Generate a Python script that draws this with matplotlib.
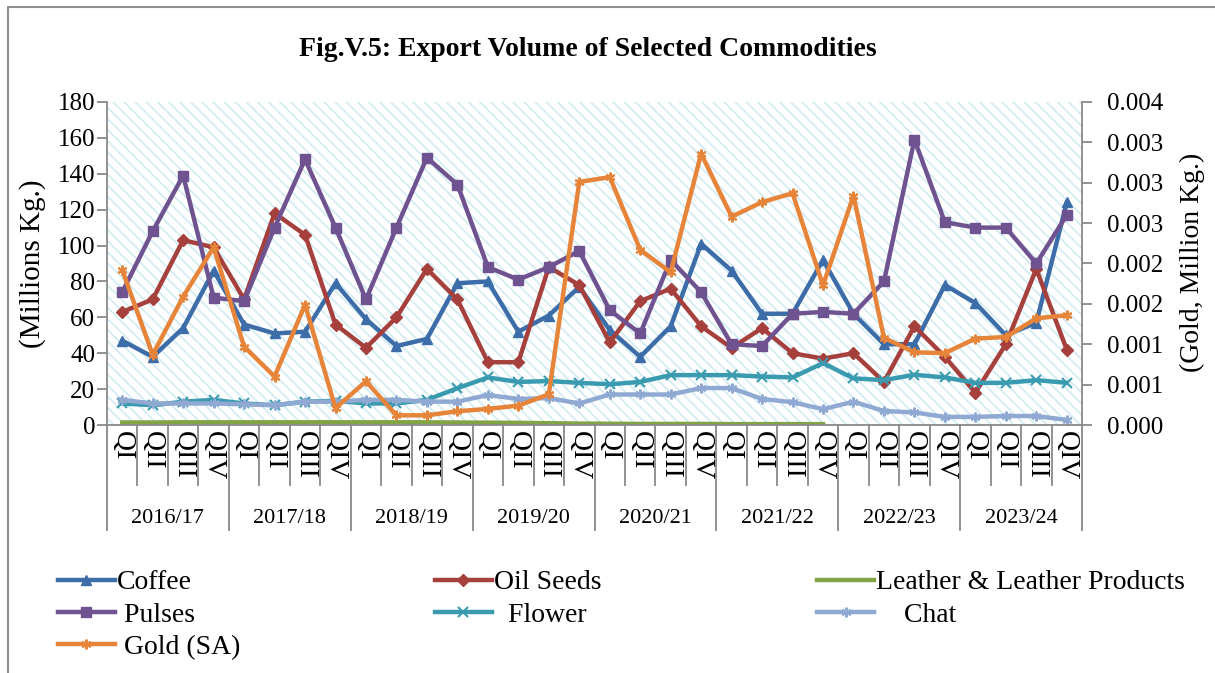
import numpy as np
import matplotlib
matplotlib.use('Agg')
import matplotlib.pyplot as plt
from matplotlib.patches import Rectangle

plt.rcParams['font.family'] = 'Liberation Serif'
plt.rcParams['font.size'] = 16
plt.rcParams['hatch.linewidth'] = 1.3

years = ['2016/17', '2017/18', '2018/19', '2019/20', '2020/21', '2021/22', '2022/23', '2023/24']
quarters = ['QI', 'QII', 'QIII', 'QIV'] * len(years)

coffee = [47, 38, 54, 86, 56, 51, 52, 79, 59, 44, 48, 79, 80, 52, 61, 77,
          53, 38, 55, 101, 86, 62, 62, 92, 62, 45, 45, 78, 68, 50, 57, 124]
oil_seeds = [63, 70, 103, 99, 70, 118, 106, 56, 43, 60, 87, 70, 35, 35, 88, 78,
             46, 69, 76, 55, 43, 54, 40, 37, 40, 24, 55, 38, 18, 45, 87, 42]
leather = [1.4, 1.4, 1.5, 1.5, 1.5, 1.5, 1.5, 1.5, 1.5, 1.5, 1.5, 1.4, 1.3, 1.2, 1.0, 0.8,
           0.7, 0.6, 0.6, 0.6, 0.5, 0.5, 0.5, 0.5] + [np.nan] * 8
pulses = [74, 108, 139, 71, 69, 110, 148, 110, 70, 110, 149, 134, 88, 81, 88, 97,
          64, 51, 92, 74, 45, 44, 62, 63, 62, 80, 159, 113, 110, 110, 90, 117]
flower = [12, 11, 13, 14, 12, 11, 13, 13.5, 12, 12, 14, 20.5, 26.5, 24, 24.5, 23.5,
          22.7, 24, 27.8, 27.8, 27.8, 27, 26.5, 34.5, 26, 25, 28, 26.5, 23.5, 23.5, 25, 23.5]
chat = [14, 12, 12, 12, 11.5, 11, 13, 13, 14, 14, 13, 13, 16.7, 14.5, 15, 12,
        17, 17, 17, 20.6, 20.6, 14.5, 12.7, 8.8, 13, 7.8, 7, 4.5, 4.5, 5, 5, 2.8]
gold = [0.00192, 0.00087, 0.00159, 0.00220, 0.00097, 0.00060, 0.00149, 0.00021,
        0.00054, 0.00012, 0.00012, 0.00017, 0.00020, 0.00024, 0.00038, 0.00301,
        0.00307, 0.00217, 0.00189, 0.00336, 0.00258, 0.00276, 0.00287, 0.00173,
        0.00284, 0.00108, 0.00090, 0.00089, 0.00107, 0.00109, 0.00132, 0.00136]

left_ticks = list(range(0, 181, 20))
right_ticks = [0, 0.0005, 0.001, 0.0015, 0.002, 0.0025, 0.003, 0.0035, 0.004]
right_labels = ['0.000', '0.001', '0.001', '0.002', '0.002', '0.003', '0.003', '0.003', '0.004']

grey = '#898989'
x = np.arange(len(quarters))

fig = plt.figure(figsize=(12.15, 6.73), dpi=100)
ax = fig.add_axes([107 / 1215, 1 - 425 / 673, 975 / 1215, 323 / 673])

# hatched plot area
ax.add_patch(Rectangle((0, 0), 1, 1, transform=ax.transAxes, facecolor='white',
                       edgecolor='#d3ecf4', hatch='\\\\\\', lw=0, zorder=0))

kw = dict(lw=3.2, markersize=7)
l1, = ax.plot(x, coffee, color='#3D6DA8', marker='^', label='Coffee', **kw)
l2, = ax.plot(x, oil_seeds, color='#A6403C', marker='D', label='Oil Seeds   ', lw=3.2, markersize=6)
l3, = ax.plot(x, leather, color='#82A444', label='Leather & Leather Products', lw=3.2)
l4, = ax.plot(x, pulses, color='#6F5390', marker='s', label=' Pulses', **kw)
l5, = ax.plot(x, flower, color='#3A9BB0', marker='x', mew=1.5, label='  Flower', **kw)
l6, = ax.plot(x, chat, color='#8FA9D3', marker=(6, 2, 0), mew=1.5, label='    Chat', **kw)

ax.set_xlim(-0.5, len(x) - 0.5)
ax.set_ylim(0, 180)
ax.set_yticks(left_ticks)
ax.set_xticks([])
ax.tick_params(axis='y', length=7, color=grey, width=1.3, pad=1.5, labelsize=18)
for s in ['top', 'right']:
    ax.spines[s].set_visible(False)
for s in ['left', 'bottom']:
    ax.spines[s].set_color(grey)
    ax.spines[s].set_linewidth(1.3)
ax.set_ylabel('(Millions Kg.)', fontsize=21)
ax.yaxis.set_label_coords(-0.0626, 0.5)

ax2 = ax.twinx()
l7, = ax2.plot(x, gold, color='#E6843A', marker=(6, 2, 0), mew=1.5, label=' Gold (SA)', **kw)
ax2.set_ylim(0, 0.004)
ax2.set_yticks(right_ticks)
ax2.set_yticklabels(right_labels)
ax2.tick_params(axis='y', length=7, color=grey, width=1.3, pad=11, labelsize=18)
for s in ['top', 'left', 'bottom']:
    ax2.spines[s].set_visible(False)
ax2.spines['right'].set_color(grey)
ax2.spines['right'].set_linewidth(1.3)
ax2.set_ylabel('(Gold, Million Kg.)', fontsize=20)
ax2.yaxis.set_label_coords(1.1005, 0.505)

# two level category axis
trans = ax.get_xaxis_transform()
for b in np.arange(-0.5, len(x), 1):
    depth = -0.325 if (b + 0.5) % 4 == 0 else -0.186
    ax.plot([b, b], [0, depth], transform=trans, color=grey, lw=1.3, clip_on=False)
for i, q in enumerate(quarters):
    ax.text(i, -0.02, q, transform=trans, rotation=270, ha='center', va='top', fontsize=20)
for j, yr in enumerate(years):
    ax.text(j * 4 + 1.5, -0.29, yr, transform=trans, ha='center', va='center', fontsize=16)

fig.text(588 / 1215, 1 - 50 / 673, 'Fig.V.5: Export Volume of Selected Commodities',
         ha='center', va='center', fontsize=20, fontweight='bold')

handles = [l1, l4, l7, l2, l5, l3, l6]
fig.legend(handles=handles, labels=[h.get_label() for h in handles], ncol=3,
           loc='upper left', bbox_to_anchor=(58 / 1215, 1 - 570 / 673), frameon=False,
           borderpad=0, borderaxespad=0, handlelength=2.05, handletextpad=0.08,
           labelspacing=0.24, columnspacing=7.0, fontsize=20)

# outer frame of the chart
fig.add_artist(Rectangle((8 / 1215, -0.1), 1.2, 1.1 - 7 / 673, transform=fig.transFigure,
                         fill=False, edgecolor='#8f8f8f', lw=1.5))

fig.savefig('out.png', dpi=100)
